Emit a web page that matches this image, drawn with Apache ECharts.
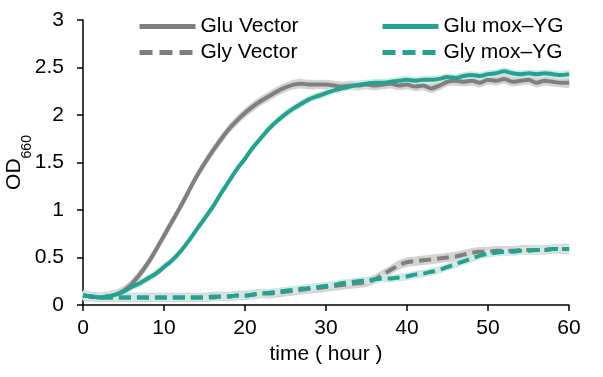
<!DOCTYPE html>
<html>
<head>
<meta charset="utf-8">
<script src="https://cdn.jsdelivr.net/npm/echarts@6/dist/echarts.min.js"></script>
<style>html,body{margin:0;padding:0;background:#fff}#c{width:603px;height:377px}</style>
</head>
<body>
<div id="c"></div>
<script>
// time in hours
const hours = [0,1,2,3,4,5,6,7,8,9,10,11,12,13,14,15,16,17,18,19,20,21,22,23,24,25,26,27,28,29,30,31,32,33,34,35,36,37,38,39,40,41,42,43,44,45,46,47,48,49,50,51,52,53,54,55,56,57,58,59,60];
const gluVector = [0.10,0.09,0.08,0.09,0.11,0.15,0.22,0.32,0.44,0.58,0.73,0.88,1.03,1.19,1.35,1.49,1.62,1.74,1.85,1.94,2.02,2.09,2.15,2.20,2.25,2.29,2.32,2.33,2.32,2.32,2.32,2.31,2.30,2.31,2.31,2.32,2.31,2.32,2.33,2.31,2.32,2.30,2.31,2.28,2.31,2.35,2.36,2.35,2.36,2.34,2.37,2.36,2.38,2.35,2.36,2.37,2.34,2.36,2.35,2.34,2.34];
const gluMox = [0.10,0.09,0.08,0.09,0.11,0.14,0.19,0.23,0.28,0.33,0.40,0.47,0.56,0.67,0.79,0.91,1.03,1.17,1.30,1.43,1.54,1.66,1.76,1.86,1.94,2.01,2.07,2.12,2.17,2.20,2.23,2.26,2.28,2.30,2.32,2.33,2.34,2.34,2.35,2.36,2.37,2.36,2.37,2.37,2.38,2.40,2.39,2.41,2.42,2.41,2.43,2.44,2.46,2.44,2.43,2.44,2.43,2.44,2.43,2.42,2.43];
const glyVector = [0.10,0.09,0.08,0.08,0.08,0.08,0.08,0.08,0.08,0.08,0.08,0.08,0.08,0.08,0.08,0.08,0.09,0.09,0.09,0.10,0.10,0.11,0.12,0.12,0.13,0.14,0.15,0.16,0.17,0.18,0.19,0.20,0.21,0.22,0.23,0.24,0.27,0.32,0.37,0.42,0.45,0.46,0.47,0.48,0.49,0.50,0.51,0.53,0.55,0.56,0.56,0.57,0.57,0.57,0.58,0.58,0.58,0.58,0.59,0.59,0.59];
const glyMox = [0.10,0.09,0.08,0.08,0.08,0.08,0.08,0.08,0.08,0.08,0.08,0.08,0.08,0.08,0.08,0.08,0.08,0.09,0.09,0.10,0.10,0.11,0.12,0.13,0.14,0.15,0.16,0.17,0.18,0.19,0.20,0.21,0.23,0.24,0.25,0.26,0.27,0.28,0.28,0.29,0.30,0.32,0.33,0.35,0.37,0.40,0.43,0.46,0.49,0.52,0.54,0.55,0.56,0.56,0.57,0.57,0.58,0.58,0.59,0.59,0.59];
// error half-widths (shaded band)
const gluVectorErr = 0.05, gluMoxErr = 0.04, glyVectorErr = 0.05, glyMoxErr = 0.04;
const names = ['Glu Vector','Gly Vector','Glu mox\u2013YG','Gly mox\u2013YG'];
const xTicks = [0,10,20,30,40,50,60];

const GRAY = '#7f7f7f', GRAYBAND = '#d3d3d3', TEAL = '#26a091', TEALBAND = '#cfe9e5';
const FONT = '"Liberation Sans", Arial, sans-serif';

function pairs(arr){ return hours.map((t,i)=>[t, arr[i]]); }
function band(id, arr, err, color){
  return {
    name:id, type:'custom', silent:true, z:1,
    data: hours.map((t,i)=>[t, arr[i]-err, arr[i]+err]),
    encode:{x:0, y:[1,2]},
    renderItem: function(params, api){
      if (params.dataIndex !== 0) return null;
      const up = [], lo = [];
      for (let i = 0; i < hours.length; i++) {
        up.push(api.coord([hours[i], arr[i]+err]));
        lo.push(api.coord([hours[i], arr[i]-err]));
      }
      const pts = up.concat(lo.reverse());
      return {type:'polygon', shape:{points:pts, smooth:0.3}, style:{fill:color, stroke:null}};
    }
  };
}
function line(name, arr, color, dashed){
  return {name:name, type:'line', symbol:'none', smooth:0.3, data:pairs(arr), z:3,
    lineStyle:{color:color, width:4, type: dashed ? [12,6] : 'solid'}, itemStyle:{color:color}};
}

const series = [
  band('gv', gluVector, gluVectorErr, GRAYBAND),
  band('gd', glyVector, glyVectorErr, GRAYBAND),
  band('tv', gluMox, gluMoxErr, TEALBAND),
  band('td', glyMox, glyMoxErr, TEALBAND),
  line(names[0], gluVector, GRAY, false), line(names[1], glyVector, GRAY, true),
  line(names[2], gluMox, TEAL, false), line(names[3], glyMox, TEAL, true)
];

function legItem(n, dashed){
  return {name:n, itemStyle:{opacity:0}, lineStyle:{width:5, type: dashed ? [13,7] : 'solid'}};
}

const chart = echarts.init(document.getElementById('c'), null, {renderer:'canvas'});
function legend(left, items){
  return {orient:'vertical', top:16, left:left, padding:0, itemWidth:56, itemHeight:14, itemGap:5,
    itemStyle:{opacity:0},
    textStyle:{fontFamily:FONT, fontSize:21, color:'#000'}, selectedMode:false, data:items};
}
chart.setOption({
  animation:false,
  textStyle:{fontFamily:FONT},
  grid:{left:83, right:34, top:20, bottom:72, containLabel:false, outerBoundsMode:'none'},
  legend:[
    legend(137, [legItem(names[0],false), legItem(names[1],true)]),
    legend(380, [legItem(names[2],false), legItem(names[3],true)])
  ],
  xAxis:{type:'value', min:0, max:60, interval:10,
    name:'time ( hour )', nameLocation:'middle', nameGap:39, nameMoveOverlap:false,
    nameTextStyle:{fontFamily:FONT, fontSize:21, color:'#000'},
    axisLine:{lineStyle:{color:'#000', width:1.5}},
    axisTick:{show:true, length:6, lineStyle:{color:'#000', width:1.5}},
    axisLabel:{fontFamily:FONT, fontSize:21, color:'#000', margin:13},
    splitLine:{show:false}},
  yAxis:{type:'value', min:0, max:3, interval:0.5,
    name:'{a|OD}{b|660}', nameLocation:'middle', nameGap:49, nameRotate:90, nameMoveOverlap:false,
    nameTextStyle:{rich:{a:{fontFamily:FONT, fontSize:21, color:'#000', verticalAlign:'bottom', padding:[0,0,9,0]},
                          b:{fontFamily:FONT, fontSize:14, color:'#000', verticalAlign:'bottom'}}},
    axisLine:{show:true, lineStyle:{color:'#000', width:1.5}},
    axisTick:{show:true, length:6, lineStyle:{color:'#000', width:1.5}},
    axisLabel:{fontFamily:FONT, fontSize:21, color:'#000', margin:19},
    splitLine:{show:false}},
  series:series
});
</script>
</body>
</html>
